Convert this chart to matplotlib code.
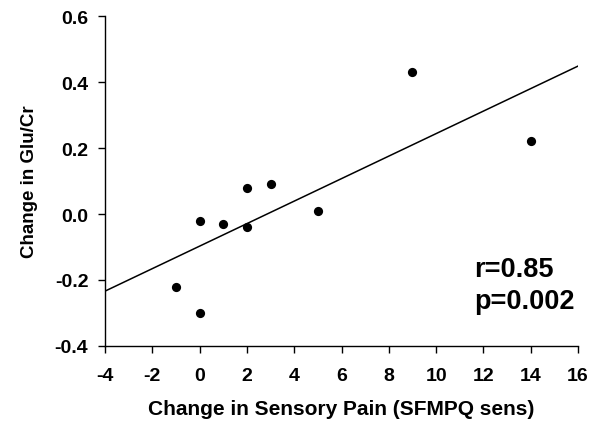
import numpy as np
import matplotlib
matplotlib.use("Agg")
import matplotlib.pyplot as plt

plt.rcParams['font.family'] = ['Liberation Sans', 'DejaVu Sans']
plt.rcParams['font.weight'] = 'bold'
plt.rcParams['axes.unicode_minus'] = False

# change in sensory pain vs change in Glu/Cr, one point per subject
pain_change = [-1, 0, 0, 1, 2, 2, 3, 5, 9, 14]
glu_change = [-0.22, -0.30, -0.02, -0.03, 0.08, -0.04, 0.09, 0.01, 0.43, 0.22]
r_text = "r=0.85"
p_text = "p=0.002"

x = np.array(pain_change, dtype=float)
y = np.array(glu_change, dtype=float)
slope, intercept = np.polyfit(x, y, 1)

fig = plt.figure(figsize=(5.99, 4.27), dpi=100)
ax = fig.add_axes([0.1753, 0.1874, 0.7897, 0.7727])

xfit = np.array([-4, 16])
ax.plot(xfit, slope * xfit + intercept, color='black', lw=1.1)
ax.scatter(x, y, s=44, color='black', zorder=3, linewidths=0)

ax.set_xlim(-4, 16)
ax.set_ylim(-0.4, 0.6)
ax.set_xticks(np.arange(-4, 17, 2))
yt = np.arange(-0.4, 0.61, 0.2)
ax.set_yticks(yt)
ax.set_yticklabels([f"{v:.1f}" for v in yt])

for side in ['top', 'right']:
    ax.spines[side].set_visible(False)
for side in ['left', 'bottom']:
    ax.spines[side].set_linewidth(1.0)

ax.tick_params(axis='x', direction='out', length=5, width=1, pad=10, labelsize=14)
ax.tick_params(axis='y', direction='out', length=5, width=1, pad=7, labelsize=14)
for lab in ax.get_xticklabels() + ax.get_yticklabels():
    lab.set_fontweight('bold')

ax.set_xlabel("Change in Sensory Pain (SFMPQ sens)", fontsize=15, fontweight='bold', labelpad=11)
ax.set_ylabel("Change in Glu/Cr", fontsize=13.5, fontweight='bold', labelpad=12)

ax.text(11.62, -0.187, r_text, fontsize=19.5, fontweight='bold', va='baseline', ha='left')
ax.text(11.62, -0.284, p_text, fontsize=19.5, fontweight='bold', va='baseline', ha='left')

fig.savefig("out.png", dpi=100)
